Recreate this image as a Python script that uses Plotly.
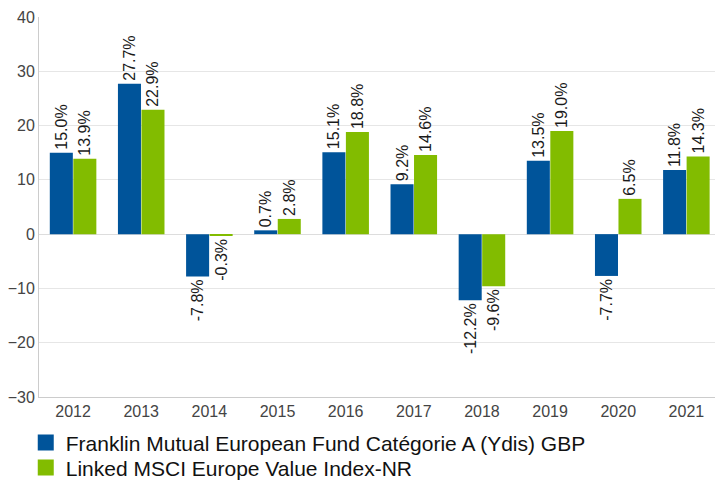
import plotly.graph_objects as go

years = ["2012", "2013", "2014", "2015", "2016", "2017", "2018", "2019", "2020", "2021"]
fund = [15.0, 27.7, -7.8, 0.7, 15.1, 9.2, -12.2, 13.5, -7.7, 11.8]
index = [13.9, 22.9, -0.3, 2.8, 18.8, 14.6, -9.6, 19.0, 6.5, 14.3]
fund_name = "Franklin Mutual European Fund Catégorie A (Ydis) GBP"
index_name = "Linked MSCI Europe Value Index-NR"
colors = ["#00549A", "#82BC00"]

font = "Liberation Sans, Arial, sans-serif"

fig = go.Figure()
for name, vals, color in [(fund_name, fund, colors[0]), (index_name, index, colors[1])]:
    fig.add_trace(go.Bar(
        x=years, y=vals, name=name, marker_color=color,
        marker_line_width=0, showlegend=False,
        text=[f"{v:.1f}%" for v in vals], textposition="outside",
        textangle=-90, cliponaxis=False,
        textfont=dict(family=font, size=16, color="#1a1a1a"),
    ))
# legend entries with larger square swatches, one legend per row
for name, color, leg in [(fund_name, colors[0], "legend"), (index_name, colors[1], "legend2")]:
    fig.add_trace(go.Scatter(
        x=[None], y=[None], mode="markers", name=name,
        marker=dict(symbol="square", size=18, color=color),
        showlegend=True, legend=leg,
    ))

leg_common = dict(orientation="v", x=-0.0196, xanchor="left", yanchor="top",
                  font=dict(family=font, size=21, color="#111"), tracegroupgap=0,
                  itemwidth=30, itemsizing="trace", bgcolor="rgba(0,0,0,0)")

fig.update_layout(
    width=715, height=481,
    margin=dict(l=39, r=0, t=17, b=84, autoexpand=False),
    paper_bgcolor="white", plot_bgcolor="white",
    barmode="group", bargap=0.31, bargroupgap=0.02,
    font=dict(family=font, color="#444"),
    showlegend=True,
    legend=dict(y=-0.0668, **leg_common),
    legend2=dict(y=-0.1326, **leg_common),
    xaxis=dict(range=[-0.5, 9.42], showgrid=False, showline=True, linecolor="#ccc",
               tickfont=dict(size=16, color="#444"), ticks=""),
    yaxis=dict(range=[-30, 40], dtick=10, showgrid=True, gridcolor="#e6e6e6",
               zeroline=True, zerolinecolor="#ddd", zerolinewidth=1,
               showline=True, linecolor="#ccc",
               tickfont=dict(size=16, color="#444"), ticks=""),
    uniformtext=dict(minsize=16, mode="show"),
)

fig.write_html("out.html", post_script="document.body.style.margin='0';",
               config={"displayModeBar": False})
